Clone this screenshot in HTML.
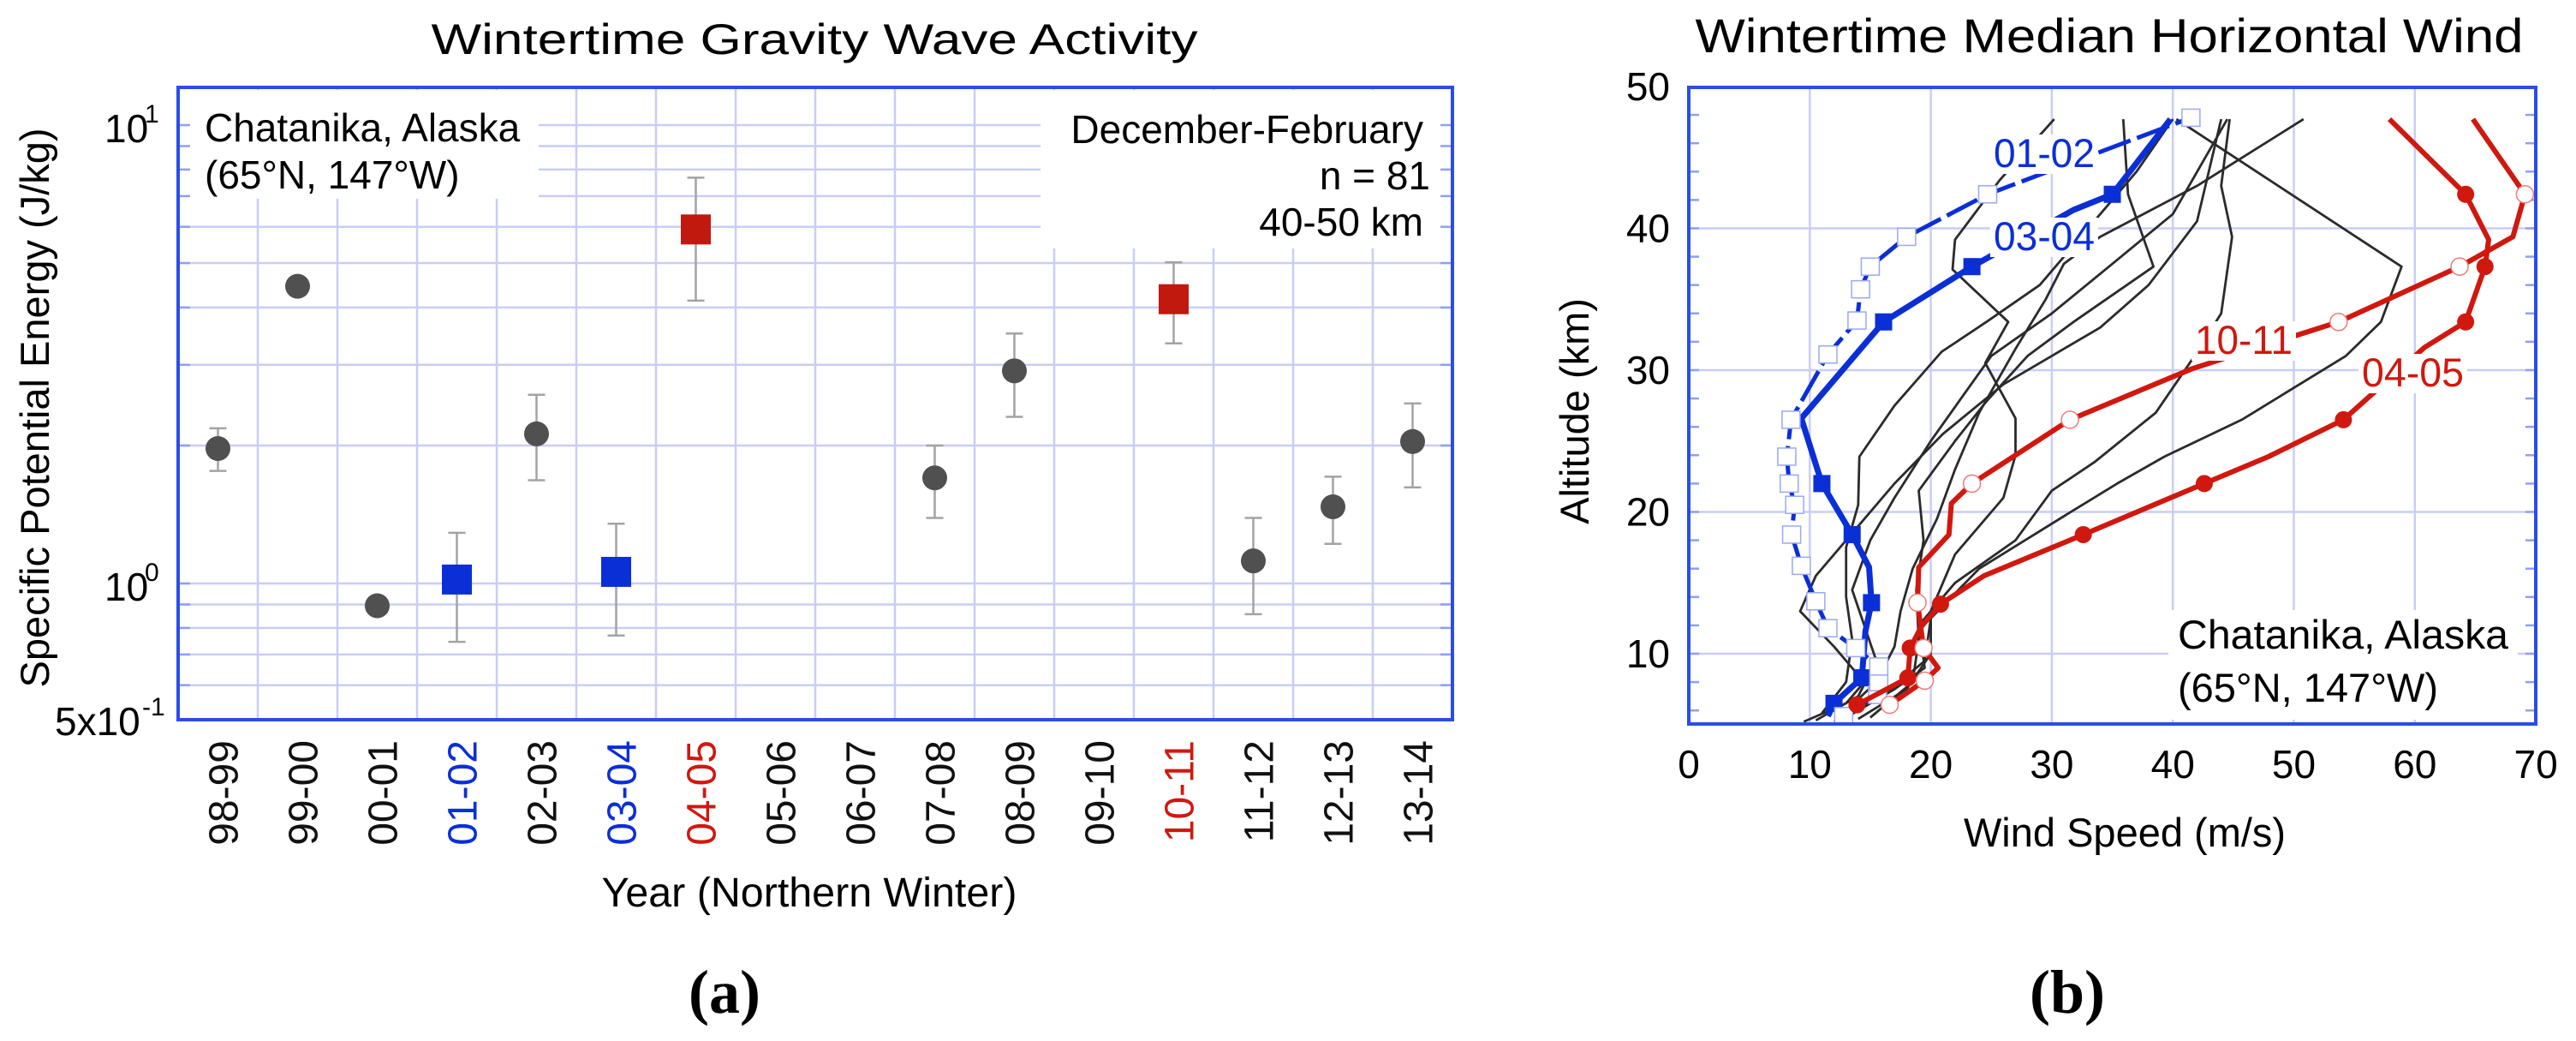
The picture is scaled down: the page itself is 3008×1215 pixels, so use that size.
<!DOCTYPE html>
<html><head><meta charset="utf-8"><style>
html,body{margin:0;padding:0;background:#fff;}
svg{display:block;font-family:"Liberation Sans",Arial,sans-serif;}
</style></head><body>
<svg id="fig" width="3008" height="1215" viewBox="0 0 3008 1215" xmlns="http://www.w3.org/2000/svg">
<g id="left"></g>
<g id="right"></g>
</svg>
<script>
// ---------- Left chart data ----------
const categories = ["98-99","99-00","00-01","01-02","02-03","03-04","04-05","05-06","06-07","07-08","08-09","09-10","10-11","11-12","12-13","13-14"];
const epValues = [1.97,4.45,0.894,1.02,2.12,1.06,5.92,null,null,1.70,2.91,null,4.17,1.12,1.47,2.04];
const epErrHigh = [2.18,null,null,1.29,2.58,1.35,7.68,null,null,2.0,3.51,null,5.02,1.39,1.71,2.47];
const epErrLow = [1.76,null,null,0.746,1.68,0.77,4.14,null,null,1.39,2.31,null,3.34,0.857,1.22,1.62];
const epGroup = ["g","g","g","b","g","b","r","g","g","g","g","g","r","g","g","g"];
const logGrid = [0.6,0.7,0.8,0.9,1,2,3,4,5,6,7,8,9,10];

// ---------- Right chart data ----------
const windTicks = [0,10,20,30,40,50,60,70];
const altTicks = [10,20,30,40,50];
const w0102 = [12.8,15.6,15.7,15.7,13.8,11.5,10.5,9.3,8.5,8.75,8.3,8.1,8.45,11.5,13.9,14.2,15.0,18.0,24.7,41.5];
const a0102 = [5.6,7.1,8.0,9.1,10.4,11.8,13.7,16.2,18.4,20.5,22.0,23.9,26.5,31.1,33.5,35.7,37.3,39.4,42.4,47.8];
const w0304 = [11.5,12.0,14.3,14.6,15.1,14.9,13.5,11.0,9.3,16.1,23.4,31.8,35.0,39.8];
const a0304 = [5.6,6.5,8.3,11.6,13.6,16.1,18.4,22.0,26.6,33.4,37.3,41.3,42.4,47.7];
const m0304 = [0,1,1,0,1,0,1,1,0,1,1,0,1,0];
const w0405 = [13.9,18.1,18.3,19.2,20.8,24.4,32.6,42.6,47.9,54.1,60.8,64.2,65.8,66.1,64.2,57.9];
const a0405 = [6.4,8.3,10.4,11.9,13.5,15.5,18.4,22.0,23.9,26.5,31.6,33.4,37.3,39.2,42.4,47.7];
const m0405 = [1,1,1,0,1,0,1,1,0,1,0,1,1,0,1,0];
const w1011 = [16.6,19.5,20.6,19.4,18.9,19.0,21.5,21.7,23.4,31.5,41.6,53.7,63.7,68.1,69.1,64.8];
const a1011 = [6.4,8.1,9.0,10.4,13.6,16.1,18.4,20.6,22.0,26.5,30.1,33.4,37.3,39.4,42.4,47.7];
const m1011 = [1,1,0,1,1,0,0,0,1,1,0,1,1,0,1,0];
const blackW = [
 [9.5,13,14.5,12,9.2,10.5,13.5,17,21,26,30,34,38,42,44],
 [10.5,14,15.5,14.5,13.5,15,17,20,22.5,25,30,35,40,44.5],
 [12,16,19.5,20,24,31,35.4,39.3,45.7,54.3,57.2,58.9,55.5,40.3],
 [13,17,19.5,19,22,27,30,33.5,38.6,41.8,44,44.9,44,44.7],
 [14,18,20,20,22,26,27,27,24.5,26.4,21.8,22,25.7,30.2],
 [15,18.5,19,18.8,19.4,19,22,24.6,28,31.8,38.4,36.3,35.9],
 [12.5,15.5,17,17.5,18.5,20.5,22,24,27,29.5,31,34,42,50.8],
 [11,13,13.5,13,13,14,14.1,17,20.9,24.6,29,33,37,40]
];
const blackA = [
 [5.2,6.5,8,10.5,13,15.5,18.5,22,25.5,29,31,33,36,40.5,47.7],
 [5.3,7,9.5,12,14.5,18,21,25,28,31,34,37.5,41,47.7],
 [5.2,7,9.5,12.5,16,19.7,22,23.9,26.5,31,33.4,37.3,39.2,47.7],
 [5.5,7.5,9,12,15,18,21.5,23.5,27,31,34,39.4,43,47.7],
 [5.4,7.5,10,13,17,21,24,26.6,30.5,33.4,37.1,39.2,43.4,47.7],
 [5.5,8,11,14.5,18,21.5,25,27.8,31,33.4,37.3,42.4,47.7],
 [5.6,8,10.5,13,16,19.5,23,27,31.5,35,37.5,39.4,43,47.7],
 [5.8,8,11,14,17.5,20.5,23.9,27.5,31.3,33.4,36,40,44,47.7]
];

const NS="http://www.w3.org/2000/svg";
function mk(parent,tag,attrs,text){const e=document.createElementNS(NS,tag);for(const k in attrs)e.setAttribute(k,attrs[k]);if(text!==undefined)e.textContent=text;parent.appendChild(e);return e;}
const BLUE="#0b2fd6", RED="#d0180f", GRID="#c9cdf6", FRAME="#2a4de6";

// ================= LEFT =================
const L=document.getElementById('left');
const LX0=208, LX1=1696, LY0=102, LY1=840, CW=93;
const xL=i=>LX0+CW*(i+0.5);
const yL=v=>681-535*Math.log10(v);

let t=mk(L,'text',{x:951,y:63,'font-size':50,'text-anchor':'middle',textLength:895,lengthAdjust:'spacingAndGlyphs'},'Wintertime Gravity Wave Activity');



const lg=mk(L,'g',{});


for(const v of logGrid){const y=yL(v);mk(lg,'line',{x1:LX0,x2:LX1,y1:y,y2:y,stroke:GRID,'stroke-width':2.5});}
for(let i=1;i<categories.length;i++){const x=LX0+CW*i;mk(lg,'line',{x1:x,x2:x,y1:LY0,y2:LY1,stroke:GRID,'stroke-width':2.5});}

// text boxes
mk(L,'rect',{x:212,y:105,width:417,height:127,fill:'#fff'});
mk(L,'rect',{x:1215,y:105,width:479,height:185,fill:'#fff'});
let ib=mk(L,'g',{'font-size':46});


mk(ib,'text',{x:239,y:165},'Chatanika, Alaska');
mk(ib,'text',{x:239,y:220},'(65°N, 147°W)');
let ib2=mk(L,'g',{'font-size':46,'text-anchor':'end'});


mk(ib2,'text',{x:1662,y:167},'December-February');
mk(ib2,'text',{x:1670,y:221},'n = 81');
mk(ib2,'text',{x:1662,y:275},'40-50  km');

// axis ticks
for(const v of logGrid){const y=yL(v);mk(L,'line',{x1:LX0,x2:LX0+14,y1:y,y2:y,stroke:'#8fa0f0','stroke-width':2.5});mk(L,'line',{x1:LX1-14,x2:LX1,y1:y,y2:y,stroke:'#8fa0f0','stroke-width':2.5});}

// error bars and markers
const marks=mk(L,'g',{});


categories.forEach((c,i)=>{
  if(epValues[i]==null)return;
  const x=xL(i);
  if(epErrHigh[i]!=null){
    const eb=mk(marks,'path',{d:`M${x},${yL(epErrHigh[i])}V${yL(epErrLow[i])}M${x-10},${yL(epErrHigh[i])}h20M${x-10},${yL(epErrLow[i])}h20`,stroke:'#a3a3a3','stroke-width':2.5,fill:'none'});
    
    
  }
  const y=yL(epValues[i]);
  let m;
  if(epGroup[i]==='g') m=mk(marks,'circle',{cx:x,cy:y,r:14.5,fill:'#505050'});
  else m=mk(marks,'rect',{x:x-17.5,y:y-17.5,width:35,height:35,fill:epGroup[i]==='b'?BLUE:'#c2190f'});
  
  
});
let fr=mk(L,'rect',{x:LX0,y:LY0,width:LX1-LX0,height:LY1-LY0,fill:'none',stroke:FRAME,'stroke-width':4});



// y tick labels
const yt=mk(L,'g',{'font-size':46});


mk(yt,'text',{x:122,y:166},'10');
mk(yt,'text',{x:169,y:143,'font-size':30},'1');
mk(yt,'text',{x:122,y:701},'10');
mk(yt,'text',{x:169,y:678,'font-size':30},'0');
mk(yt,'text',{x:64,y:858},'5x10');
mk(yt,'text',{x:166,y:835,'font-size':30},'-1');

// category labels
categories.forEach((c,i)=>{
  const x=xL(i)+23;
  const col=epGroup[i]==='b'?BLUE:(epGroup[i]==='r'?RED:'#111');
  const tl=mk(L,'text',{x:x,y:864,'font-size':48,fill:col,'text-anchor':'end',transform:`rotate(-90 ${x} 864)`},c);
  
  
});
t=mk(L,'text',{x:41,y:476,'font-size':47,'text-anchor':'middle',transform:'rotate(-90 41 476)',dy:16},'Specific Potential Energy (J/kg)');


t=mk(L,'text',{x:945,y:1058,'font-size':48,'text-anchor':'middle',textLength:485,lengthAdjust:'spacingAndGlyphs'},'Year (Northern Winter)');


t=mk(L,'text',{x:846,y:1182,'font-size':72,'font-weight':'bold','text-anchor':'middle','font-family':'"Liberation Serif",serif'},'(a)');



// ================= RIGHT =================
const R=document.getElementById('right');
const RX0=1972, RX1=2961, RY0=102, RY1=845;
const xR=v=>RX0+v*14.13;
const yR=a=>763-(a-10)*16.55;

t=mk(R,'text',{x:2463,y:61,'font-size':56,'text-anchor':'middle',textLength:967,lengthAdjust:'spacingAndGlyphs'},'Wintertime Median Horizontal Wind');



const rg=mk(R,'g',{});


windTicks.slice(1,-1).forEach(v=>{mk(rg,'line',{x1:xR(v),x2:xR(v),y1:RY0,y2:RY1,stroke:GRID,'stroke-width':2.5});});
altTicks.slice(0,-1).forEach(a=>{mk(rg,'line',{x1:RX0,x2:RX1,y1:yR(a),y2:yR(a),stroke:GRID,'stroke-width':2.5});});
for(let a=6;a<50;a+=2){const y=yR(a);mk(rg,'line',{x1:RX0,x2:RX0+12,y1:y,y2:y,stroke:'#8fa0f0','stroke-width':2.5});mk(rg,'line',{x1:RX1-12,x2:RX1,y1:y,y2:y,stroke:'#8fa0f0','stroke-width':2.5});}

mk(R,'rect',{x:2532,y:712,width:408,height:128,fill:'#fff'});

function pathOf(ws,as){return ws.map((w,i)=>(i?'L':'M')+xR(w).toFixed(1)+','+yR(as[i]).toFixed(1)).join('');}
const bl=mk(R,'g',{fill:'none',stroke:'#2b2b2b','stroke-width':2.8,'stroke-linejoin':'round'});


blackW.forEach((ws,k)=>{
  const p=mk(bl,'path',{d:pathOf(ws,blackA[k])});
  
  
});

function series(name,ws,as,col,width,dash,marker,mflags){
  const g=mk(R,'g',{});
  
  
  const attrs={d:pathOf(ws,as),fill:'none',stroke:col,'stroke-width':width,'stroke-linejoin':'round'};
  if(dash)attrs['stroke-dasharray']=dash;
  mk(g,'path',attrs);
  ws.forEach((w,i)=>{
    if(mflags && !mflags[i])return;
    const x=xR(w),y=yR(as[i]);
    if(marker==='osq') mk(g,'rect',{x:x-10.5,y:y-10,width:21,height:20,fill:'#fff',stroke:'#9aa8f2','stroke-width':1.5});
    else if(marker==='fsq') mk(g,'rect',{x:x-10,y:y-10,width:20,height:20,fill:col});
    else if(marker==='fci') mk(g,'circle',{cx:x,cy:y,r:10,fill:col});
    else if(marker==='oci') mk(g,'circle',{cx:x,cy:y,r:10,fill:'#fff',stroke:'#f07a7a','stroke-width':1.5});
  });
}
series('profile-03-04',w0304,a0304,BLUE,7,null,'fsq',m0304);
series('profile-01-02',w0102,a0102,BLUE,5,'40 8',  'osq',null);
series('profile-04-05',w0405,a0405,RED,6,null,'fci',m0405);
series('profile-10-11',w1011,a1011,RED,6,null,'oci',m1011);

// series labels
function lab(name,x,y,w,txt,col){
  mk(R,'rect',{x:x-4,y:y-38,width:w+8,height:46,fill:'#fff'});
  const e=mk(R,'text',{x:x,y:y,'font-size':47,fill:col,textLength:w,lengthAdjust:'spacingAndGlyphs'},txt);
  
  
}
lab('label-01-02',2328,195,118,'01-02',BLUE);
lab('label-03-04',2328,292,118,'03-04',BLUE);
lab('label-10-11',2563,413,114,'10-11',RED);
lab('label-04-05',2758,451,119,'04-05',RED);

let ra=mk(R,'g',{'font-size':47});


mk(ra,'text',{x:2543,y:757,textLength:386,lengthAdjust:'spacingAndGlyphs'},'Chatanika, Alaska');
mk(ra,'text',{x:2543,y:819},'(65°N, 147°W)');

fr=mk(R,'rect',{x:RX0,y:RY0,width:RX1-RX0,height:RY1-RY0,fill:'none',stroke:FRAME,'stroke-width':4});



const xt=mk(R,'g',{'font-size':46,'text-anchor':'middle'});


windTicks.forEach(v=>mk(xt,'text',{x:xR(v),y:908},String(v)));
const ytk=mk(R,'g',{'font-size':46,'text-anchor':'end'});


altTicks.forEach(a=>mk(ytk,'text',{x:1950,y:yR(a)+16},String(a)));

t=mk(R,'text',{x:2481,y:988,'font-size':47,'text-anchor':'middle'},'Wind Speed (m/s)');


t=mk(R,'text',{x:1839,y:480,'font-size':47,'text-anchor':'middle',transform:'rotate(-90 1839 480)',dy:16},'Altitude (km)');


t=mk(R,'text',{x:2414,y:1182,'font-size':72,'font-weight':'bold','text-anchor':'middle','font-family':'"Liberation Serif",serif'},'(b)');


</script>
</body></html>
